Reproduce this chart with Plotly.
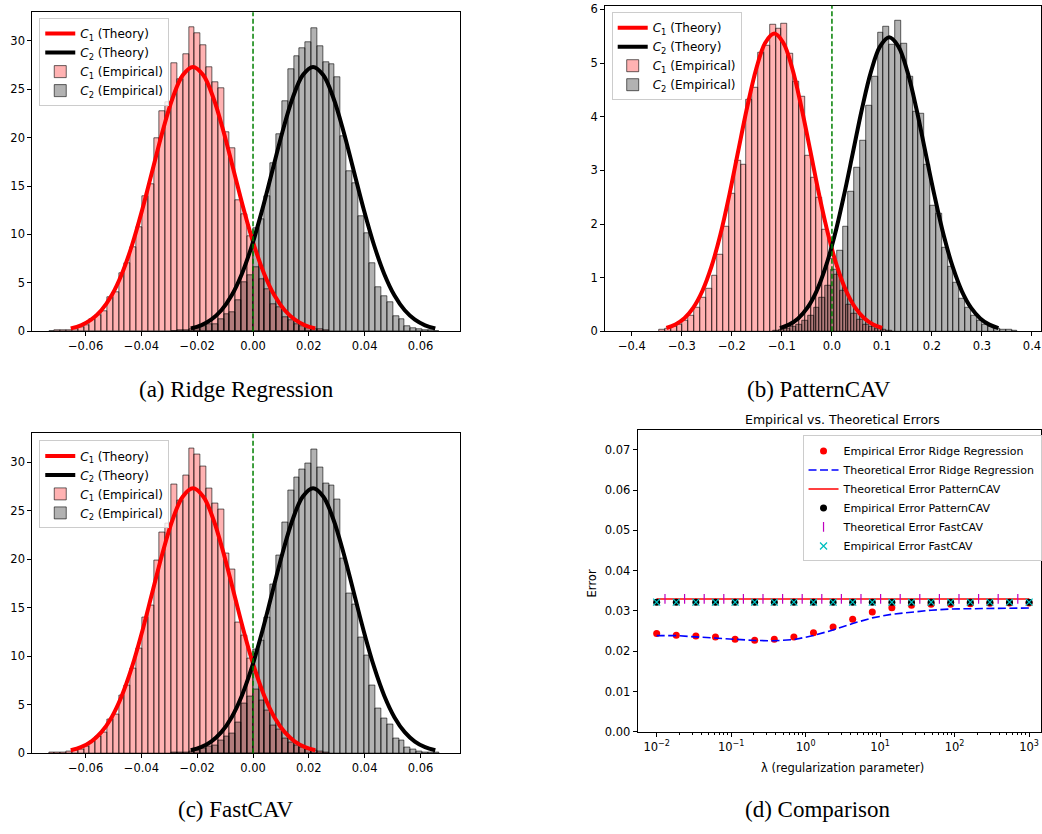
import plotly.graph_objects as go

W, H = 1042, 834

# ---------------- (a) Ridge Regression  /  (c) FastCAV : histogram data ----------------
ridge_bin_width = 0.00209
ridge_c1_first_edge = -0.07315
ridge_c1_density = [0.05, 0.07, 0.12, 0.15, 0.25, 0.4, 0.65, 1.25, 1.7, 2.1,
                    3.5, 4.0, 6.0, 7.0, 8.7, 10.8, 14.0, 15.2, 19.9, 22.7,
                    23.7, 27.7, 26.0, 28.6, 31.4, 30.8, 29.5, 27.3, 25.7, 25.1,
                    20.6, 18.9, 13.5, 12.1, 9.8, 6.6, 5.4, 4.4, 2.85, 2.45,
                    1.5, 1.1, 0.75, 0.55, 0.35, 0.24, 0.17, 0.1]
ridge_c2_first_edge = -0.02926
ridge_c2_density = [0.05, 0.08, 0.12, 0.2, 0.24, 0.5, 0.7, 0.75, 1.26, 1.77,
                    2.0, 3.2, 5.1, 5.8, 10.7, 11.6, 14.0, 17.4, 20.4, 23.8,
                    27.1, 28.4, 29.2, 29.9, 31.3, 29.4, 27.8, 27.6, 26.2, 20.1,
                    16.5, 15.3, 11.9, 10.1, 7.0, 4.6, 3.6, 3.0, 1.56, 1.3,
                    0.54, 0.37, 0.2, 0.1, 0.1, 0.05]

ridge_theory_c1_x = [-0.0653, -0.06165, -0.058, -0.05435, -0.0507, -0.04705, -0.0434,
                     -0.03975, -0.0361, -0.03245, -0.0288, -0.02515, -0.0215, -0.01785,
                     -0.0142, -0.01055, -0.0069, -0.00325, 0.0004, 0.00405, 0.0077,
                     0.01135, 0.015, 0.01865, 0.0223]
ridge_theory_c2_x = [-0.0223, -0.01865, -0.015, -0.01135, -0.0077, -0.00405, -0.0004,
                     0.00325, 0.0069, 0.01055, 0.0142, 0.01785, 0.0215, 0.02515,
                     0.0288, 0.03245, 0.0361, 0.03975, 0.0434, 0.04705, 0.0507,
                     0.05435, 0.058, 0.06165, 0.0653]
ridge_theory_y = [0.30, 0.62, 1.20, 2.17, 3.69, 5.90, 8.86, 12.50, 16.56, 20.61, 24.09,
                  26.46, 27.3, 26.46, 24.09, 20.61, 16.56, 12.50, 8.86, 5.90, 3.69,
                  2.17, 1.20, 0.62, 0.30]

# ---------------- (b) PatternCAV : histogram data ----------------
pattern_bin_width = 0.01165
pattern_c1_first_edge = -0.34535
pattern_c1_density = [0.03, 0.05, 0.08, 0.12, 0.2, 0.3, 0.45, 0.63, 0.79, 1.03,
                      1.43, 1.95, 2.56, 3.19, 3.11, 4.31, 4.54, 5.2, 5.33, 5.71,
                      5.65, 5.74, 5.17, 4.65, 4.37, 3.27, 2.87, 2.49, 1.9, 1.35,
                      1.05, 0.75, 0.5, 0.33, 0.22, 0.13, 0.08, 0.05, 0.03, 0.02]
pattern_c2_first_edge = -0.11815
pattern_c2_density = [0.02, 0.03, 0.05, 0.08, 0.12, 0.2, 0.3, 0.45, 0.62, 0.85,
                      1.15, 1.5, 1.95, 2.6, 3.05, 3.55, 4.2, 4.75, 5.56, 5.68,
                      5.34, 5.79, 5.36, 4.75, 4.1, 4.05, 3.1, 2.35, 2.2, 1.55,
                      1.2, 0.9, 0.6, 0.45, 0.3, 0.2, 0.12, 0.08, 0.05, 0.04,
                      0.03, 0.02]

pattern_theory_c1_x = [-0.3310, -0.3130, -0.2950, -0.2771, -0.2591, -0.2411, -0.2231,
                       -0.2052, -0.1872, -0.1692, -0.1512, -0.1333, -0.1153, -0.0973,
                       -0.0793, -0.0614, -0.0434, -0.0254, -0.0074, 0.0105, 0.0285,
                       0.0465, 0.0645, 0.0824, 0.1004]
pattern_theory_c1_y = [0.062, 0.127, 0.244, 0.442, 0.751, 1.20, 1.80, 2.54, 3.37, 4.19,
                       4.90, 5.38, 5.55, 5.38, 4.90, 4.19, 3.37, 2.54, 1.80, 1.20,
                       0.751, 0.442, 0.244, 0.127, 0.062]
pattern_theory_c2_x = [-0.1039, -0.0857, -0.0675, -0.0493, -0.0311, -0.0129, 0.0053,
                       0.0235, 0.0417, 0.0599, 0.0781, 0.0963, 0.1145, 0.1327, 0.1509,
                       0.1691, 0.1873, 0.2055, 0.2237, 0.2419, 0.2601, 0.2783, 0.2965,
                       0.3147, 0.3329]
pattern_theory_c2_y = [0.061, 0.125, 0.241, 0.436, 0.741, 1.19, 1.78, 2.51, 3.32, 4.14,
                       4.84, 5.31, 5.48, 5.31, 4.84, 4.14, 3.32, 2.51, 1.78, 1.19,
                       0.741, 0.436, 0.241, 0.125, 0.061]

# ---------------- (d) Comparison ----------------
lambdas = [0.01, 0.01833, 0.0336, 0.06158, 0.1129, 0.2069, 0.3793, 0.6952, 1.274, 2.336,
           4.281, 7.848, 14.38, 26.37, 48.33, 88.59, 162.4, 297.6, 545.6, 1000.0]
emp_ridge = [0.02439, 0.02398, 0.02382, 0.02357, 0.02300, 0.02276, 0.02300, 0.02357,
             0.02463, 0.02602, 0.02798, 0.02977, 0.03083, 0.03140, 0.03165, 0.03165,
             0.0318, 0.0319, 0.0320, 0.0320]
theo_ridge = [0.0239, 0.0239, 0.02357, 0.02325, 0.02284, 0.02268, 0.0226, 0.0229,
              0.0239, 0.0253, 0.0269, 0.0283, 0.0292, 0.02977, 0.0302, 0.0305,
              0.0306, 0.03067, 0.0307, 0.03075]
theo_pattern = [0.0330] * 20
emp_pattern = [0.0322] * 20
lambdas_fast_theory = [0.01293, 0.0237, 0.04345, 0.07963, 0.146, 0.2675, 0.4904, 0.8989,
                       1.647, 3.02, 5.535, 10.15, 18.6, 34.1, 62.5, 114.5, 210.0, 384.8,
                       705.4]
theo_fast = [0.0330] * 19
emp_fast = [0.0322] * 20

# ------------------------------------------------------------------
FONT = "DejaVu Sans"
fig = go.Figure()


def centers(first_edge, width, n):
    return [first_edge + (i + 0.5) * width for i in range(n)]


def add_hist_panel(tag, xa, ya, leg, c1x, c1y, c2x, c2y, w, e1, h1, e2, h2):
    fig.add_trace(go.Scatter(x=c1x, y=c1y, mode="lines", line=dict(color="red", width=4, shape="spline"),
                             name="<i>C</i><sub>1</sub> (Theory)", xaxis=xa, yaxis=ya, legend=leg,
                             legendgroup=tag + "1"))
    fig.add_trace(go.Scatter(x=c2x, y=c2y, mode="lines", line=dict(color="black", width=4, shape="spline"),
                             name="<i>C</i><sub>2</sub> (Theory)", xaxis=xa, yaxis=ya, legend=leg,
                             legendgroup=tag + "2"))
    fig.add_trace(go.Bar(x=centers(e1, w, len(h1)), y=h1, width=w,
                         marker=dict(color="rgba(255,0,0,0.3)", line=dict(color="rgba(0,0,0,0.75)", width=0.8)),
                         name="<i>C</i><sub>1</sub> (Empirical)", xaxis=xa, yaxis=ya, legend=leg,
                         legendgroup=tag + "3"))
    fig.add_trace(go.Bar(x=centers(e2, w, len(h2)), y=h2, width=w,
                         marker=dict(color="rgba(0,0,0,0.3)", line=dict(color="rgba(0,0,0,0.75)", width=0.8)),
                         name="<i>C</i><sub>2</sub> (Empirical)", xaxis=xa, yaxis=ya, legend=leg,
                         legendgroup=tag + "4"))


# (a)
add_hist_panel("a", "x", "y", "legend", ridge_theory_c1_x, ridge_theory_y, ridge_theory_c2_x, ridge_theory_y,
               ridge_bin_width, ridge_c1_first_edge, ridge_c1_density, ridge_c2_first_edge, ridge_c2_density)
# (b)
add_hist_panel("b", "x2", "y2", "legend2", pattern_theory_c1_x, pattern_theory_c1_y, pattern_theory_c2_x,
               pattern_theory_c2_y, pattern_bin_width, pattern_c1_first_edge, pattern_c1_density,
               pattern_c2_first_edge, pattern_c2_density)
# (c)
add_hist_panel("c", "x3", "y3", "legend3", ridge_theory_c1_x, ridge_theory_y, ridge_theory_c2_x, ridge_theory_y,
               ridge_bin_width, ridge_c1_first_edge, ridge_c1_density, ridge_c2_first_edge, ridge_c2_density)

# (d)
fig.add_trace(go.Scatter(x=lambdas, y=emp_ridge, mode="markers", marker=dict(color="red", size=7),
                         name="Empirical Error Ridge Regression", xaxis="x4", yaxis="y4", legend="legend4"))
fig.add_trace(go.Scatter(x=lambdas, y=theo_ridge, mode="lines", line=dict(color="blue", width=1.6, dash="8px,3.5px"),
                         name="Theoretical Error Ridge Regression", xaxis="x4", yaxis="y4", legend="legend4"))
fig.add_trace(go.Scatter(x=lambdas, y=theo_pattern, mode="lines", line=dict(color="red", width=1.5),
                         name="Theoretical Error PatternCAV", xaxis="x4", yaxis="y4", legend="legend4"))
fig.add_trace(go.Scatter(x=lambdas, y=emp_pattern, mode="markers", marker=dict(color="black", size=7),
                         name="Empirical Error PatternCAV", xaxis="x4", yaxis="y4", legend="legend4"))
fig.add_trace(go.Scatter(x=lambdas_fast_theory, y=theo_fast, mode="markers",
                         marker=dict(symbol="line-ns-open", color="#bf00bf", size=7, line=dict(width=1.2, color="#bf00bf")),
                         name="Theoretical Error FastCAV", xaxis="x4", yaxis="y4", legend="legend4"))
fig.add_trace(go.Scatter(x=lambdas, y=emp_fast, mode="markers",
                         marker=dict(symbol="x-thin-open", color="#00bfbf", size=7, line=dict(width=1.3, color="#00bfbf")),
                         name="Empirical Error FastCAV", xaxis="x4", yaxis="y4", legend="legend4"))


def px(x):
    return x / W


def py(y):
    return 1 - y / H


axis_common = dict(showline=True, linecolor="black", linewidth=1, mirror=True, ticks="outside",
                   ticklen=4, tickwidth=1, tickcolor="black", showgrid=False, zeroline=False,
                   tickfont=dict(family=FONT, size=11.5, color="black"))

ridge_xticks = [-0.06, -0.04, -0.02, 0.0, 0.02, 0.04, 0.06]
ridge_xtext = ["\u22120.06", "\u22120.04", "\u22120.02", "0.00", "0.02", "0.04", "0.06"]
pattern_xticks = [-0.4, -0.3, -0.2, -0.1, 0.0, 0.1, 0.2, 0.3, 0.4]
pattern_xtext = ["\u22120.4", "\u22120.3", "\u22120.2", "\u22120.1", "0.0", "0.1", "0.2", "0.3", "0.4"]

minor_vals = []
for d in [0.01, 0.1, 1, 10, 100, 1000]:
    for m in range(2, 10):
        minor_vals.append(d * m)

fig.update_layout(
    width=W, height=H, margin=dict(l=0, r=0, t=0, b=0),
    paper_bgcolor="white", plot_bgcolor="white",
    barmode="overlay", bargap=0,
    font=dict(family=FONT, size=11.5, color="black"),
    xaxis=dict(domain=[px(32.3), px(460)], range=[-0.0791, 0.074], anchor="y",
               tickvals=ridge_xticks, ticktext=ridge_xtext, **axis_common),
    yaxis=dict(domain=[py(332.3), py(9.3)], range=[0, 32.95], anchor="x",
               tickvals=[0, 5, 10, 15, 20, 25, 30], **axis_common),
    xaxis2=dict(domain=[px(605.7), 1.0], range=[-0.4535, 0.418], anchor="y2",
                tickvals=pattern_xticks, ticktext=pattern_xtext, **axis_common),
    yaxis2=dict(domain=[py(332.3), py(2.7)], range=[0, 6.07], anchor="x2",
                tickvals=[0, 1, 2, 3, 4, 5, 6], ticklabeloverflow="allow", **axis_common),
    xaxis3=dict(domain=[px(32.3), px(460)], range=[-0.0791, 0.074], anchor="y3",
                tickvals=ridge_xticks, ticktext=ridge_xtext, **axis_common),
    yaxis3=dict(domain=[py(759.3), py(435.7)], range=[0, 32.95], anchor="x3",
                tickvals=[0, 5, 10, 15, 20, 25, 30], **axis_common),
    xaxis4=dict(domain=[px(638.3), 1.0], type="log", range=[-2.255, 3.16], anchor="y4",
                tickvals=[0.01, 0.1, 1, 10, 100, 1000],
                ticktext=["10<sup>\u22122</sup>", "10<sup>\u22121</sup>", "10<sup>0</sup>",
                          "10<sup>1</sup>", "10<sup>2</sup>", "10<sup>3</sup>"],
                minor=dict(ticks="outside", ticklen=2, tickcolor="black", tickwidth=0.8,
                           tickvals=minor_vals, showgrid=False),
                **axis_common),
    yaxis4=dict(domain=[py(737.7), py(432.3)], range=[0, 0.0749], anchor="x4",
                tickvals=[0, 0.01, 0.02, 0.03, 0.04, 0.05, 0.06, 0.07],
                ticktext=["0.00", "0.01", "0.02", "0.03", "0.04", "0.05", "0.06", "0.07"],
                **axis_common),
)

legend_common = dict(xanchor="left", yanchor="top", bgcolor="rgba(255,255,255,0.8)",
                     bordercolor="#cccccc", borderwidth=1, traceorder="normal",
                     tracegroupgap=3,
                     font=dict(family=FONT, size=12, color="black"))
fig.update_layout(
    legend=dict(x=px(39.3), y=py(15.3), **legend_common),
    legend2=dict(x=px(612.3), y=py(9.3), **legend_common),
    legend3=dict(x=px(39.3), y=py(442.7), **legend_common),
    legend4=dict(x=px(803.3), y=py(437.7), xanchor="left", yanchor="top", bgcolor="rgba(255,255,255,0.8)",
                 bordercolor="#cccccc", borderwidth=1, traceorder="normal",
                 font=dict(family=FONT, size=11, color="black")),
)

# green dashed vertical line at 0
for xr, yr in [("x", "y"), ("x2", "y2"), ("x3", "y3")]:
    fig.add_shape(type="line", xref=xr, yref=yr + " domain", x0=0, x1=0, y0=0, y1=1,
                  line=dict(color="green", width=1.5, dash="5px,2.5px"))

annotations = [
    dict(text="(a) Ridge Regression", x=px(236.5), y=py(391)),
    dict(text="(b) PatternCAV", x=px(820), y=py(391)),
    dict(text="(c) FastCAV", x=px(236.5), y=py(816)),
    dict(text="(d) Comparison", x=px(819), y=py(816)),
]
for a in annotations:
    fig.add_annotation(xref="paper", yref="paper", xanchor="center", yanchor="middle", showarrow=False,
                       font=dict(family="Liberation Serif", size=23, color="black"), **a)

fig.add_annotation(text="Empirical vs. Theoretical Errors", xref="paper", yref="paper", x=px(843), y=py(422),
                   xanchor="center", yanchor="middle", showarrow=False, font=dict(family=FONT, size=12.5, color="black"))
fig.add_annotation(text="Error", xref="paper", yref="paper", x=px(593), y=py(587), textangle=-90,
                   xanchor="center", yanchor="middle", showarrow=False, font=dict(family=FONT, size=11.5, color="black"))
fig.add_annotation(text="\u03bb (regularization parameter)", xref="paper", yref="paper", x=px(843), y=py(774),
                   xanchor="center", yanchor="middle", showarrow=False, font=dict(family=FONT, size=11.5, color="black"))

fig.write_html("out.html")
